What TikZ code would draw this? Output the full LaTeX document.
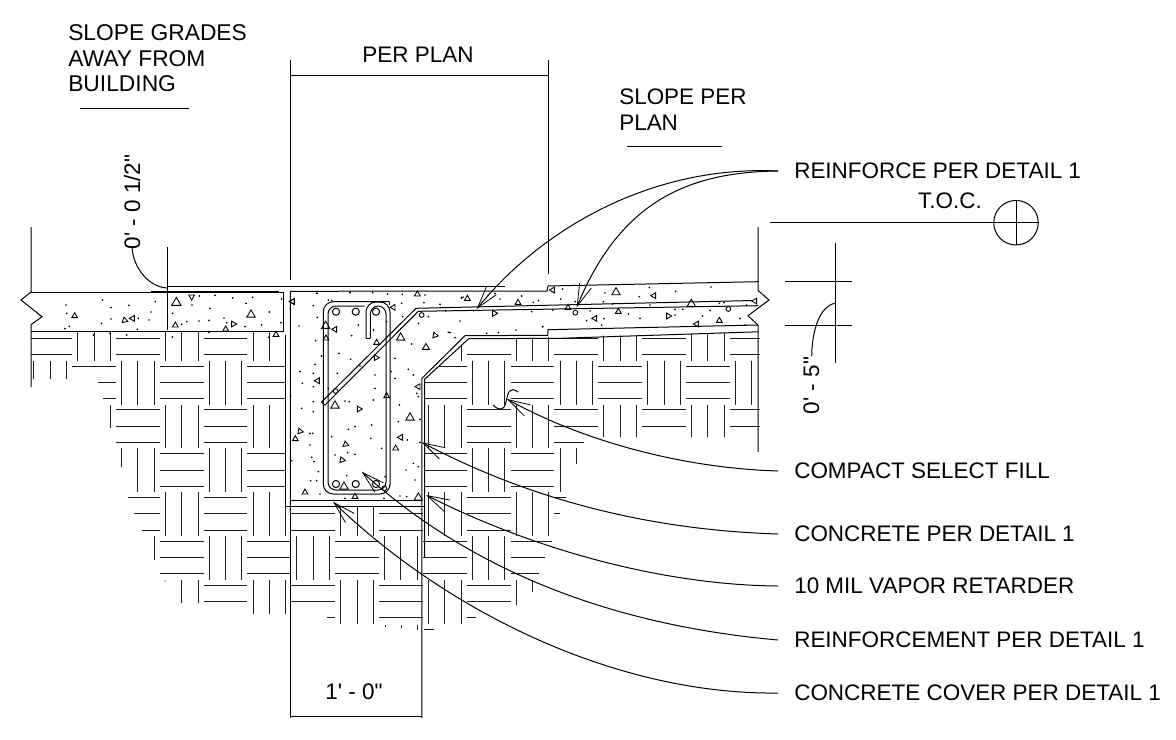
\documentclass[tikz,border=0pt]{standalone}
\usepackage{fontspec}
\setmainfont{Liberation Sans}[Ligatures=TeXOff]
\usetikzlibrary{arrows.meta,bending}
\tikzset{
  main/.style={line width=0.75pt,line join=miter},
  hatchline/.style={line width=0.75pt,black!88},
  lab/.style={anchor=west,inner xsep=12pt,inner ysep=0pt,font=\fontsize{16.85}{19.1}\selectfont},
  txt/.style={inner sep=0pt,font=\fontsize{16.85}{19.1}\selectfont},
  leader/.style={line width=0.75pt,-{Straight Barb[length=16.5pt,width=9.5pt,line width=0.6pt,flex=0.5]}},
  soft/.style={line width=0.75pt},
  agg/.style={line width=0.65pt},
}
\newcommand{\aggtri}[3]{\draw[agg] (#1) +(90+#3:#2pt) -- +(210+#3:#2pt) -- +(330+#3:#2pt) -- cycle;}
\begin{document}
\begin{tikzpicture}[x=0.75pt,y=-0.75pt]
\useasboundingbox (0,0) rectangle (1176,739);
% ---------- earth hatch ----------
\begin{scope}
\clip (31,320)--(760,320)--(760,437)--(584,437)--(584,447)--(578,447)--(578,464)--(562,464)--(562,490)--(566,490)--(566,505)--(560,505)--(560,522)--(552,522)--(552,549)--(545,549)--(545,566)--(539,566)--(539,578)--(535,578)--(535,592)--(518,592)--(518,605)--(476,605)--(476,624)--(327,624)--(327,614)--(252,614)--(252,603)--(180,603)--(180,580)--(158,580)--(158,560)--(152,560)--(152,536)--(142,536)--(142,522)--(134,522)--(134,505)--(128,505)--(128,492)--(130,492)--(130,467)--(120,467)--(120,448)--(114,448)--(114,428)--(108,428)--(108,404)--(103,404)--(103,390)--(98,390)--(98,379)--(31,379)--cycle;
\foreach \j in {-1,...,5}{
  \foreach \k in {-1,...,15}{
    \pgfmathsetmacro\cx{72+43.85*\k}
    \pgfmathsetmacro\cy{360.7+43.8*\j}
    \pgfmathtruncatemacro\parit{mod(\k+\j+20,2)}
    \ifnum\parit=0
      \foreach \o in {5.3,21.7,38}{
        \draw[hatchline] (\cx,\cy+\o) -- (\cx+43.85,\cy+\o);
      }
    \else
      \foreach \o in {5.7,22,38.3}{
        \draw[hatchline] (\cx+\o,\cy) -- (\cx+\o,\cy+43.8);
      }
    \fi
  }
}
\end{scope}
\draw[hatchline] (385,625)--(385,627) (401,625)--(401,628) (417,625)--(417,630) (424,629)--(434,629);
\fill (165,581) circle[radius=0.5pt];
% ---------- white concrete ----------
\fill[white] (31,292) rectangle (284,331);
\fill[white] (285,316)--(762,316)--(758,332.3)--(468.7,338.7)--(424.5,379.3)--(424.5,506)--(285,506)--cycle;
% ---------- concrete outline ----------
\draw[main] (31,227)--(31,292)--(21,300)--(42,316.7)--(31,324.7)--(31,387);
\draw[main] (31,331)--(283.7,331)--(283.7,292)--(31,292);
\draw[main] (151,291.5)--(279,291.5);
\draw[main] (167,286)--(505,286);
\draw[main] (167.5,247)--(167.5,330);
% footing and slab
\draw[main] (290.3,513)--(290.3,291.3)--(547,291)--(548,286)--(758,281.7)--(758,227);
\draw[main] (758,281.7)--(758,290.5)--(769,300)--(748,315.7)--(758,325)--(758,452);
\draw[main] (758,325)--(548,329.7)--(547.7,335.3)--(465,335.7)--(421.9,378.3)--(421.9,718);
\draw[main] (290.3,500.7)--(421.9,500.7);
% vapor retarder
\draw[main] (285.7,335)--(285.7,506)--(424.6,506);
\draw[main] (758,331.8)--(560,338.3)--(468.7,338.7)--(424.6,379.3)--(424.6,557);
% lower dimension
\draw[main] (290.3,513)--(290.3,718);
\draw[main] (290.3,716.3)--(421.9,716.3);
% upper dimension
\draw[main] (290.3,60)--(290.3,280);
\draw[main] (548,60)--(548,274);
\draw[main] (290.3,75.4)--(548,75.4);
% ---------- stirrup ----------
\draw[main,rounded corners=7.5pt] (389.5,301.7)--(323.3,301.7)--(323.3,494)--(390,494)--(390,302)--(366,302)--(366,338.3);
\draw[main] (366,338.3)--(370.3,338.3);
\draw[main,rounded corners=6pt] (370.3,338.3)--(370.3,306)--(386,306)--(386,490)--(328,490)--(328,306)--(364.5,306);
\draw[main] (389.5,301.7)--(389.5,305);
% diagonal + slab bar
\draw[main] (321.3,402.3)--(416,308.3)--(753,300.5);
\draw[main] (325,405)--(418.3,311.3)--(758,305.7);
\draw[main] (321.3,402.3)--(325,405);
% rebar circles
\foreach \x in {336,355.7,376}{
  \draw[main] (\x,311.7) circle[radius=2.7pt];
  \draw[main] (\x,484) circle[radius=2.7pt];
}
% ---------- aggregate ----------
\begin{scope}[shift={(0,240)},x=0.25pt,y=-0.25pt]
\foreach \p/\s/\r in {{529,188}/4/0,{575,170}/2.5/180,{224,228}/2.5/0,{374,241}/2.5/10,{398,235}/2.5/90,{526,256}/2.5/0,{700,252}/2.5/30,{677,268}/2.5/0,{753,224}/3.6/0,{828,284}/2.5/0,{878,184}/2.5/90}{\aggtri{\p}{\s}{\r}}
\foreach \p in {{198,195},{200,220},{307,180},{333,203},{333,237},{387,196},{305,250},{208,259},{195,266},{412,268},{466,185},{453,216},{447,240},{415,235},{545,253},{560,245},{597,243},{627,241},{672,234},{680,248},{735,260},{785,255},{843,248},{808,216},{758,172},{698,174},{738,190},{630,205},{576,195},{598,168},{645,166},{518,220},{845,177},{627,277},{517,291},{380,285},{280,285},{330,280},{806,292},{950,160},{1050,157}}{\fill (\p) circle[radius=0.7pt];}
\end{scope}
\begin{scope}[shift={(280,270)},x=0.25pt,y=-0.25pt]
\foreach \p/\s/\r in {{38,95}/2.5/90,{412,73}/2.5/0,{562,86}/2.5/0,{340,112}/2.5/90,{137,168}/3.6/0,{165,178}/2.5/90,{138,205}/2.5/0,{290,218}/2.5/0,{362,203}/3.6/0,{288,263}/2.5/30,{438,232}/3/0,{465,196}/2.5/20,{113,332}/2.5/90,{165,407}/3.6/0,{237,417}/2.5/30,{320,378}/2.5/0,{390,443}/3.6/0,{415,350}/2.5/90,{60,484}/2.5/20,{46,507}/2.5/0,{362,502}/2.5/90,{347,535}/2.5/0,{197,523}/2.5/10,{186,570}/2.5/20,{75,667}/2.5/0,{192,650}/3.6/0,{225,680}/2.5/0,{415,683}/3.6/0,{643,130}/2.5/30,{714,98}/2.5/0}{\aggtri{\p}{\s}{\r}}
\foreach \p in {{112,70},{145,90},{155,92},{210,68},{278,68},{323,72},{367,73},{435,75},{480,103},{497,122},{100,107},{112,142},{57,168},{107,212},{125,258},{105,283},{100,310},{60,305},{67,340},{100,350},{215,197},{235,165},{280,180},{320,155},{365,100},{368,140},{395,222},{415,160},{432,98},{445,140},{540,153},{510,188},{525,203},{505,187},{345,265},{385,298},{400,315},{333,305},{410,370},{415,380},{358,405},{420,448},{355,455},{382,510},{420,517},{305,535},{272,505},{275,465},{225,470},{205,478},{155,500},{90,490},{98,490},{90,525},{35,572},{95,562},{102,575},{115,605},{92,632},{110,632},{200,617},{165,555},{203,548},{225,553},{285,355},{280,390},{208,395},{195,393},{100,395},{65,415},{100,425},{32,378},{177,250},{212,268},{172,310},{240,288},{285,315},{145,355},{378,600},{400,580},{415,590},{405,630},{380,680},{360,678},{195,685},{120,672},{315,620},{312,685},{345,325},{725,78},{775,92},{760,97},{545,82},{645,70},{660,87},{580,122},{755,125},{620,190},{655,188},{708,180},{788,170}}{\fill (\p) circle[radius=0.7pt];}
\draw[agg] (425,135) circle[radius=1.8pt];
\draw[agg] (167,363) circle[radius=1.8pt];
\draw[agg] (313,655) circle[radius=1.8pt];
\draw[agg] (542,86) -- (552,80);
\end{scope}
\begin{scope}[shift={(540,220)},x=0.25pt,y=-0.25pt]
\foreach \p/\s/\r in {{38,210}/2.5/90,{228,217}/3.6/0,{342,227}/2.5/90,{454,252}/3.6/0,{645,243}/2.5/90,{84,263}/2.5/0,{235,275}/2.5/0,{165,295}/2.5/90,{385,288}/2.5/30,{470,312}/2.5/90,{538,302}/2.5/0}{\aggtri{\p}{\s}{\r}}
\foreach \p in {{68,207},{62,237},{195,219},{190,245},{298,230},{328,202},{407,214},{513,201},{330,255},{218,252},{106,245},{538,250},{552,248},{620,255},{150,273},{265,282},{300,295},{140,302},{192,296},{185,315},{405,268},{428,268},{487,288},{510,271},{600,295},{615,315},{8,320},{38,270},{405,285}}{\fill (\p) circle[radius=0.7pt];}
\draw[agg] (106,278) circle[radius=1.8pt];
\draw[agg] (565,267) circle[radius=1.8pt];
\end{scope}
% ---------- texts ----------
\node[txt,anchor=west,align=left,font=\fontsize{17.1}{19.1}\selectfont] (slopea) at (68,58.5) {SLOPE GRADES\\AWAY FROM\\BUILDING};
\coordinate (ua1) at (80,108); \coordinate (ua2) at (189,108);
\draw[soft] (ua1)--(ua2);
\node[txt] (perplan) at (418,55) {PER PLAN};
\node[txt,anchor=west,align=left] (slopeb) at (619,109.5) {SLOPE PER\\PLAN};
\coordinate (ub1) at (627,146); \coordinate (ub2) at (722,146);
\draw[soft] (ub1)--(ub2);
\node[txt] (tocl) at (950,201) {T.O.C.};
\node[draw,circle,line width=0.75pt,minimum size=33.4pt,inner sep=0pt] (toc) at (1016,222.7) {};
\coordinate (tocs) at (770,222.7);
\draw[soft] (tocs)--(toc.east);
\draw[soft] (toc.north)--(toc.south);
\node[txt,rotate=90] (dimh) at (132,202) {0' - 0 1/2"};
\coordinate (dimhe) at (167,288);
\draw[soft] (132,248) .. controls (134,270) and (150,287) .. (dimhe);
\node[txt,rotate=90] (dimv) at (811.5,385.5) {0' - 5"};
\coordinate (dve) at (835,303.3);
\draw[soft] (811.7,356) .. controls (812,330) and (820,306) .. (dve);
\coordinate (v1) at (835,243); \coordinate (v2) at (835,363);
\draw[soft] (v1)--(v2);
\coordinate (h1a) at (785,281.3); \coordinate (h1b) at (852,281.3);
\draw[soft] (h1a)--(h1b);
\coordinate (h2a) at (785,325.3); \coordinate (h2b) at (852,325.3);
\draw[soft] (h2a)--(h2b);
\node[txt] (dimw) at (354,692) {1' - 0"};
% labels + leaders
\node[lab] (lr) at (778,171) {REINFORCE PER DETAIL 1};
\node[lab] (lc) at (778,471) {COMPACT SELECT FILL};
\node[lab] (ld) at (778,534) {CONCRETE PER DETAIL 1};
\node[lab] (lm) at (778,586) {10 MIL VAPOR RETARDER};
\node[lab] (lf) at (778,640) {REINFORCEMENT PER DETAIL 1};
\node[lab] (lo) at (778,693) {CONCRETE COVER PER DETAIL 1};
\coordinate (t1) at (476.7,309);
\coordinate (t2) at (576.7,307.3);
\coordinate (t3) at (507,399);
\coordinate (t4) at (421.7,442.3);
\coordinate (t5) at (426,495);
\coordinate (t6) at (361.7,471.7);
\coordinate (t7) at (333,501.7);
\draw[leader] (lr.west) .. controls (650,165) and (540,230) .. (t1);
\draw[leader] (lr.west) .. controls (690,172) and (620,200) .. (t2);
\draw[leader] (lc.west) .. controls (680,468) and (580,440) .. (t3);
\draw[leader] (ld.west) .. controls (650,530) and (530,500) .. (t4);
\draw[leader] (lm.west) .. controls (660,585) and (530,548) .. (t5);
\draw[leader] (lf.west) .. controls (610,625) and (470,570) .. (t6);
\draw[leader] (lo.west) .. controls (620,695) and (450,615) .. (t7);
\draw[soft] (493,405) .. controls (498,410) and (504,412) .. (506,402) .. controls (508,392) and (510,386) .. (518,392);
\end{tikzpicture}
\end{document}
